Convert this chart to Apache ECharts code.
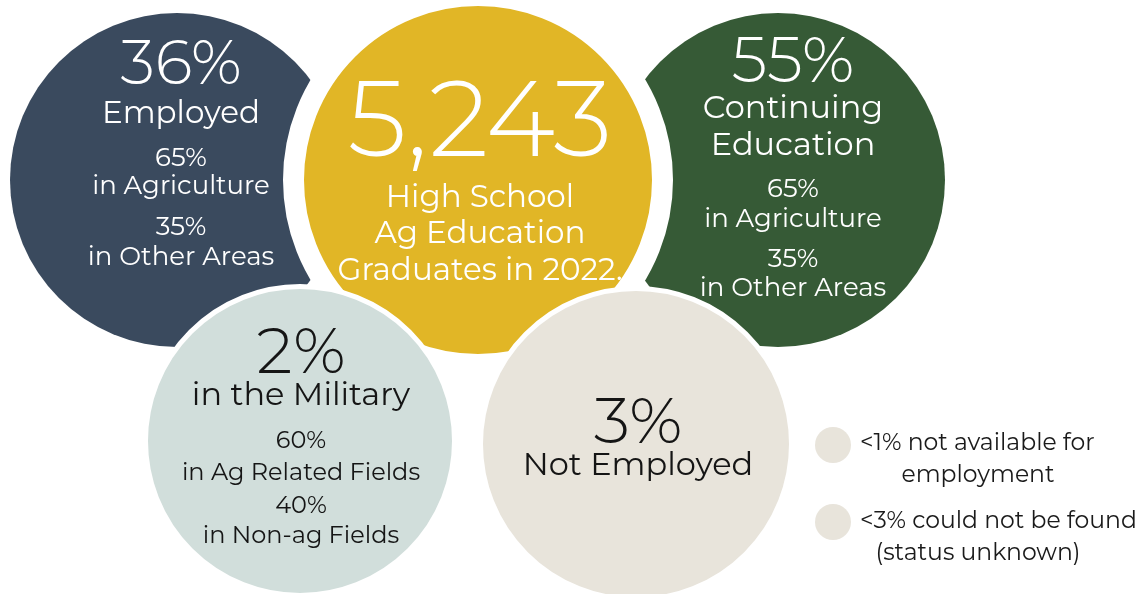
<!DOCTYPE html>
<html><head><meta charset="utf-8">
<script src="https://cdn.jsdelivr.net/npm/echarts@6/dist/echarts.min.js"></script>
<style>html,body{margin:0;padding:0;background:#fff}#c{width:1145px;height:594px}</style>
</head><body><div id="c"></div>
<script>
// ---- data ----
const circleNames = ['Employed', 'Graduates', 'Continuing Education', 'Military', 'Not Employed', 'Not available', 'Not found'];
const centerX = [177, 478, 778, 300, 636, 833, 833];
const centerY = [180, 180, 180, 441, 444, 445, 522];
const radius = [167, 174, 167, 152, 153, 18, 18];

const headlines = ['36%', '5,243', '55%', '2%', '3%'];
const captions = [
  ['Employed'],
  ['High School', 'Ag Education', 'Graduates in 2022.'],
  ['Continuing', 'Education'],
  ['in the Military'],
  ['Not Employed']
];
const details = [
  ['65%', 'in Agriculture', '35%', 'in Other Areas'],
  [],
  ['65%', 'in Agriculture', '35%', 'in Other Areas'],
  ['60%', 'in Ag Related Fields', '40%', 'in Non-ag Fields'],
  []
];
const notes = [
  ['<1% not available for', 'employment'],
  ['<3% could not be found', '(status unknown)']
];

// ---- styling / layout ----
const circleColors = ['#3a4a5e', '#e1b626', '#365a36', '#d1dedb', '#e8e4db', '#e8e4db', '#e8e4db'];
const ringWidth = [0, 21, 0, 5, 5, 0, 0];
const layer = [0, 1, 0, 2, 2, 2, 2];
const textColor = ['#ffffff', '#ffffff', '#ffffff', '#151515', '#151515'];
const FONT = 'Montserrat, "Open Sans", "Noto Sans", sans-serif';
// per circle: dx of text block, baseline offsets (relative to center) and font sizes for each line
const textLayout = [
  {dx: 4, dy: [-96, -57, -14, 14, 55, 85], fs: [62, 31, 26, 26, 26, 26]},
  {dx: 2, dy: [-23, 27, 63, 100], fs: [106, 31, 31, 31]},
  {dx: 15, dy: [-98, -62, -25, 17, 47, 87, 116], fs: [64, 32, 32, 26, 26, 26, 26]},
  {dx: 1, dy: [-68, -36, 7, 39, 72, 102], fs: [64, 32, 24, 24, 24, 24]},
  {dx: 2, dy: [-1, 31], fs: [65, 32]}
];
const noteLayout = [
  {dx: [27, 145], align: ['left', 'center'], dy: [5, 37]},
  {dx: [27, 145], align: ['left', 'center'], dy: [6, 38]}
];
const noteFs = 23.5;

const circleSeries = [0, 1, 2].map(function (L) {
  const data = [];
  circleNames.forEach(function (n, i) {
    if (layer[i] !== L) return;
    data.push({
      name: n,
      value: [centerX[i], centerY[i], radius[i]],
      symbolSize: 2 * radius[i] + ringWidth[i],
      itemStyle: {color: circleColors[i], borderColor: '#ffffff', borderWidth: ringWidth[i], opacity: 1}
    });
  });
  return {type: 'scatter', z: 2 + L, silent: true, symbol: 'circle', data: data, animation: false,
    emphasis: {disabled: true}};
});

const chart = echarts.init(document.getElementById('c'), null, {renderer: 'canvas'});
chart.setOption({
  animation: false,
  backgroundColor: '#ffffff',
  grid: {left: 0, right: 0, top: 0, bottom: 0},
  xAxis: {type: 'value', min: 0, max: 1145, show: false},
  yAxis: {type: 'value', min: 0, max: 594, inverse: true, show: false},
  series: circleSeries
});

function textEl(x, y, t, fs, weight, color, align) {
  return {
    type: 'text', z: 100, silent: true,
    x: x, y: y,
    style: {
      text: t, fill: color, align: align || 'center', verticalAlign: 'bottom',
      font: weight + ' ' + fs + 'px ' + FONT, lineHeight: fs
    }
  };
}
const DESC = 0.2; // fraction of font size below baseline for bottom-aligned box
const els = [];
headlines.forEach(function (h, i) {
  const c = chart.convertToPixel({gridIndex: 0}, [centerX[i], centerY[i]]);
  const lines = [h].concat(captions[i], details[i]);
  const lay = textLayout[i];
  lines.forEach(function (t, k) {
    const fs = lay.fs[k];
    els.push(textEl(c[0] + lay.dx, c[1] + lay.dy[k] + DESC * fs, t, fs, k === 0 ? 300 : 400, textColor[i]));
  });
});
notes.forEach(function (lines, j) {
  const ci = 5 + j;
  const c = chart.convertToPixel({gridIndex: 0}, [centerX[ci], centerY[ci]]);
  const lay = noteLayout[j];
  lines.forEach(function (t, k) {
    els.push(textEl(c[0] + lay.dx[k], c[1] + lay.dy[k] + DESC * noteFs, t, noteFs, 400, '#1a1a1a', lay.align[k]));
  });
});
chart.setOption({graphic: {elements: els}});
</script></body></html>
